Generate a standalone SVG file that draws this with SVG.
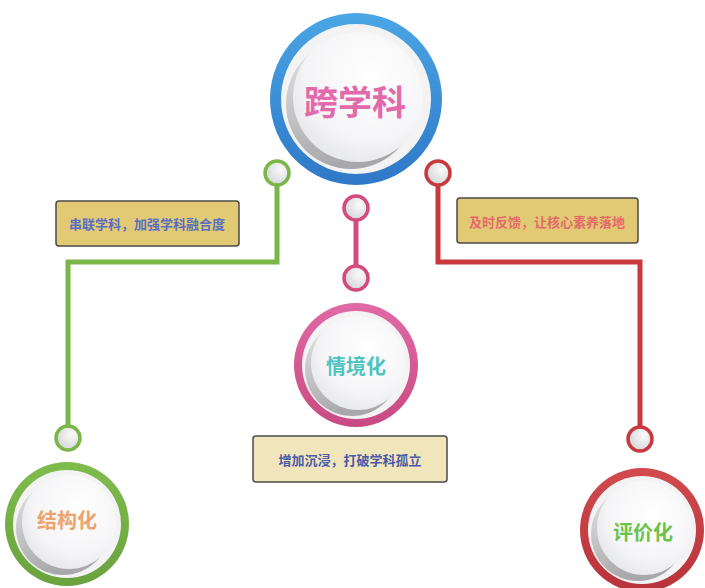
<svg xmlns="http://www.w3.org/2000/svg" width="705" height="588" viewBox="0 0 705 588">
<defs>
<radialGradient id="btn" cx="0.6" cy="0.35" r="0.75"><stop offset="0" stop-color="#ffffff"/><stop offset="0.65" stop-color="#f5f5f7"/><stop offset="1" stop-color="#e2e3e6"/></radialGradient>
<linearGradient id="shd" x1="0" y1="0" x2="0.3" y2="1"><stop offset="0" stop-color="#e6e6e6"/><stop offset="1" stop-color="#a8a8aa"/></linearGradient>
<linearGradient id="blue" x1="0" y1="0" x2="0" y2="1"><stop offset="0" stop-color="#4aa6e4"/><stop offset="1" stop-color="#2f78c8"/></linearGradient>
<linearGradient id="green" x1="0" y1="0" x2="0" y2="1"><stop offset="0" stop-color="#7fbc4c"/><stop offset="1" stop-color="#6aa23e"/></linearGradient>
<linearGradient id="pink" x1="0" y1="0" x2="0" y2="1"><stop offset="0" stop-color="#e06aa6"/><stop offset="1" stop-color="#c94a82"/></linearGradient>
<linearGradient id="red" x1="0" y1="0" x2="0" y2="1"><stop offset="0" stop-color="#d04a4e"/><stop offset="1" stop-color="#b8343a"/></linearGradient>
<radialGradient id="dot" cx="0.65" cy="0.35" r="0.8"><stop offset="0" stop-color="#fafafa"/><stop offset="1" stop-color="#cfd0d3"/></radialGradient>
</defs>
<style>
.big{font-family:"Noto Sans CJK SC",sans-serif;font-weight:bold;text-anchor:middle;dominant-baseline:central}
.lbl{font-family:"Noto Sans CJK SC",sans-serif;font-weight:bold;font-size:13px;text-anchor:middle;dominant-baseline:central}
.box{stroke:#4a4a4a;stroke-width:1.5}
.wh{fill:#f3f3f4}
.sh{fill:url(#shd)}
.bt{fill:url(#btn)}
.dot{fill:url(#dot);stroke-width:3.5}
.ln{fill:none;stroke-width:5;stroke-linejoin:miter}
</style>
<g id="connectors">
<polyline class="ln" stroke="#7ab648" points="277,185 277,262 68,262 68,426"/>
<polyline class="ln" stroke="#c8383f" points="438,185 438,262 640,262 640,426"/>
<line class="ln" stroke="#d54a7c" x1="356" y1="220" x2="356" y2="266"/>
<circle class="dot" stroke="#7ab648" cx="277" cy="173" r="12"/>
<circle class="dot" stroke="#c8383f" cx="438" cy="173" r="12"/>
<circle class="dot" stroke="#d54a7c" cx="356" cy="208" r="12"/>
<circle class="dot" stroke="#d54a7c" cx="356" cy="278" r="12"/>
<circle class="dot" stroke="#7ab648" cx="68" cy="438" r="12"/>
<circle class="dot" stroke="#c8383f" cx="640" cy="439" r="12"/>
</g>
<g id="node-kuaxueke">
<circle cx="356" cy="99" r="86" fill="url(#blue)"/>
<circle class="wh" cx="356" cy="99" r="75"/>
<circle class="sh" cx="351" cy="104" r="65"/>
<circle class="bt" cx="358" cy="97" r="65"/>
<text class="big" x="355" y="100" font-size="34" fill="#e26aab">跨学科</text>
</g>
<g id="node-qingjinghua">
<circle cx="356" cy="365" r="62" fill="url(#pink)"/>
<circle class="wh" cx="356" cy="365" r="54"/>
<circle class="sh" cx="352" cy="369" r="47"/>
<circle class="bt" cx="358" cy="363" r="47"/>
<text class="big" x="356" y="365" font-size="20" fill="#4ec3c2">情境化</text>
</g>
<g id="node-jiegouhua">
<circle cx="67" cy="524" r="62" fill="url(#green)"/>
<circle class="wh" cx="67" cy="524" r="54"/>
<circle class="sh" cx="63" cy="528" r="47"/>
<circle class="bt" cx="69" cy="522" r="47"/>
<text class="big" x="67" y="519" font-size="20" fill="#f0a26c">结构化</text>
</g>
<g id="node-pingjiahua">
<circle cx="642" cy="530" r="62" fill="url(#red)"/>
<circle class="wh" cx="642" cy="530" r="54"/>
<circle class="sh" cx="638" cy="534" r="47"/>
<circle class="bt" cx="644" cy="528" r="47"/>
<text class="big" x="643" y="531" font-size="20" fill="#6cc24a">评价化</text>
</g>
<g id="box-left">
<rect class="box" x="56" y="201" width="183" height="45" rx="3" fill="#e2ca74"/>
<text class="lbl" x="147" y="223" fill="#5a6ec4">串联学科，加强学科融合度</text>
</g>
<g id="box-right">
<rect class="box" x="457" y="198" width="181" height="45" rx="3" fill="#e2ca74"/>
<text class="lbl" x="547" y="221" fill="#e46a6a">及时反馈，让核心素养落地</text>
</g>
<g id="box-bottom">
<rect class="box" x="253" y="436" width="194" height="46" rx="3" fill="#f1e5bb"/>
<text class="lbl" x="350" y="459" fill="#4a5aa8">增加沉浸，打破学科孤立</text>
</g>
</svg>
